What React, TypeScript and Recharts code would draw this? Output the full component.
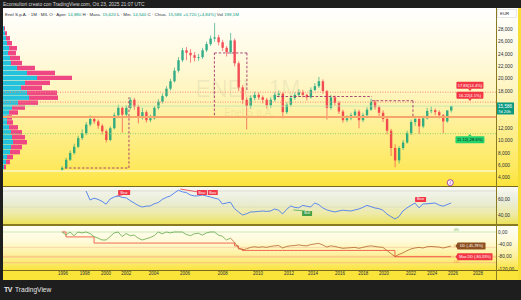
import React from 'react';
import { ComposedChart, BarChart, Bar, Line, XAxis, YAxis, ReferenceLine, ReferenceDot } from 'recharts';

// ---------- data ----------
const FIRST_OPEN = 5.3;
const closes = [
  5.6, 6.9, 8.0, 9.0, 10.4, 11.2, 12.6, 13.5, 13.1, 12.4,
  11.5, 10.1, 12.0, 14.1, 15.3, 14.2, 15.3, 16.6, 15.5, 13.8,
  14.6, 13.3, 13.6, 15.3, 16.3, 17.2, 18.4, 19.6, 21.3, 23.0,
  24.6, 24.2, 23.8, 23.4, 23.5, 24.6, 25.6, 26.5, 26.7, 25.9,
  25.0, 24.3, 26.2, 22.5, 18.6, 16.6, 15.6, 16.9, 17.4, 17.0,
  16.6, 15.7, 16.6, 17.4, 17.6, 14.6, 15.8, 16.9, 17.4, 17.8,
  17.4, 17.0, 18.2, 18.8, 19.6, 18.0, 15.3, 17.0, 16.1, 14.7,
  13.3, 13.6, 14.1, 14.7, 13.3, 14.1, 15.0, 16.3, 15.4, 14.5,
  13.5, 11.6, 8.8, 6.8, 8.8, 9.7, 11.2, 13.0, 13.5, 12.3,
  13.6, 14.8, 14.9, 14.6, 14.1, 13.1, 14.88, 15.586,
];
const highs = [
  5.9, 7.2, 8.4, 9.5, 10.8, 11.8, 13.0, 14.1, 13.9, 13.4,
  12.7, 11.8, 12.3, 14.5, 15.8, 15.5, 15.7, 17.0, 16.9, 15.8,
  15.3, 14.9, 14.2, 15.6, 16.7, 17.6, 18.8, 20.0, 21.8, 23.5,
  25.0, 25.1, 24.8, 24.3, 24.0, 25.0, 26.0, 27.0, 29.0, 27.1,
  26.3, 25.3, 27.4, 26.5, 22.8, 19.0, 17.0, 17.3, 17.9, 17.8,
  17.3, 16.9, 17.0, 17.8, 18.1, 17.8, 16.2, 17.3, 17.8, 18.3,
  18.2, 17.6, 18.6, 19.3, 20.3, 19.9, 18.2, 17.4, 17.3, 16.4,
  15.0, 14.1, 14.5, 15.1, 15.0, 14.5, 15.4, 16.8, 16.6, 15.7,
  14.9, 13.8, 11.9, 9.4, 9.1, 10.1, 11.6, 13.4, 14.0, 13.8,
  14.0, 15.3, 15.5, 15.2, 14.9, 14.3, 14.9, 15.62,
];
const lows = [
  5.1, 5.4, 6.7, 7.7, 8.8, 10.1, 10.9, 12.3, 12.7, 11.9,
  11.0, 9.7, 9.9, 11.8, 13.9, 11.3, 13.9, 15.0, 15.0, 12.8,
  13.4, 12.9, 13.0, 13.4, 15.0, 16.0, 17.0, 18.1, 19.4, 21.0,
  22.7, 23.0, 22.6, 22.8, 22.9, 23.2, 24.3, 25.3, 26.0, 25.4,
  24.5, 23.6, 24.0, 22.0, 18.0, 15.9, 11.8, 15.2, 16.5, 16.6,
  16.0, 15.2, 15.3, 16.3, 17.0, 13.6, 14.3, 15.5, 16.6, 17.1,
  17.0, 16.5, 16.8, 18.0, 18.5, 17.6, 13.4, 15.0, 15.7, 14.3,
  12.9, 13.0, 13.3, 13.8, 12.0, 13.0, 13.8, 14.8, 15.0, 14.0,
  13.0, 11.0, 7.5, 5.7, 6.3, 8.5, 9.5, 10.9, 12.4, 11.1,
  12.0, 13.4, 14.4, 14.1, 13.6, 11.2, 12.9, 14.54,
];
const rsi: (number | null)[] = [
  null, null, null, null, null, null, 70, 58.8, 61, 59.5,
  57, 53.5, 60, 62.5, 63.8, 62, 61.5, 58, 55, 52,
  50, 51, 51.3, 54, 55.5, 59.5, 62, 63.8, 67.5, 71,
  69, 68, 65, 63.8, 64, 65, 63.8, 62.5, 61, 60,
  53.8, 55, 56, 48, 43.8, 40, 41.5, 43.8, 44, 44.5,
  45, 44.5, 45, 47.5, 46, 41.3, 47, 51.3, 49.5, 49,
  52, 51, 50, 55, 53, 49, 46.5, 45, 43.8, 45,
  46, 45.5, 45, 46.3, 47.5, 49.5, 52, 50.5, 48.8, 48,
  46, 41.3, 38, 35, 38, 45, 48.8, 52, 55, 49,
  53.8, 54, 54.5, 55, 52.5, 51, 53, 55,
];
const drawdown = [
  0, -10, 0, -12, 0, -3, 0, -5, -15, -20,
  -26, -26, -15, -3, 0, -15, -5, -12, -10, -20,
  -26, -22, -18, -12, 0, -6, 0, -3, 0, 0,
  0, -8, -12, -6, -4, -10, -3, 0, 0, -10,
  -14, -26, -20, -33, -52, -58, -55, -50, -48, -50,
  -48, -50, -47, -45, -44, -52, -47, -45, -44, -42,
  -44, -45, -41, -39, -37, -42, -49, -45, -47, -50,
  -53, -52, -51, -50, -53, -50, -47, -45, -47, -49,
  -50, -60, -70, -80, -73, -68, -61, -55, -52, -50,
  -52, -48, -47, -48, -49, -52, -49, -45.78,
];
const maxDrawdown = [
  0, -16, -16, -16, -16, -16, -16, -16, -36, -36,
  -36, -36, -36, -36, -36, -36, -36, -36, -36, -36,
  -36, -36, -36, -36, -36, -36, -36, -36, -36, -36,
  -36, -36, -36, -36, -36, -36, -36, -36, -36, -36,
  -36, -36, -36, -45, -55, -60, -60, -60, -60, -60,
  -60, -60, -60, -60, -60, -60, -60, -60, -60, -60,
  -60, -60, -60, -60, -60, -60, -60, -60, -60, -60,
  -60, -60, -60, -60, -60, -60, -60, -60, -60, -60,
  -60, -60, -60, -80.33, -80.33, -80.33, -80.33, -80.33, -80.33, -80.33,
  -80.33, -80.33, -80.33, -80.33, -80.33, -80.33, -80.33, -80.33,
];
const DD_SPLIT = 42;

const profilePrices = [6.0, 6.8, 7.6, 8.4, 9.2, 10.0, 10.8, 11.6, 12.4, 13.2, 14.0, 14.8, 15.6, 16.4, 17.2, 18.0, 18.8, 19.6, 20.4, 21.2, 22.0, 22.8, 23.6, 24.4, 25.2, 26.0, 26.8, 27.6, 28.4];
const profileUp = [1, 2, 3, 4, 6, 5, 7, 8, 14, 24, 34, 22, 18, 24, 26, 15, 9, 6, 4, 4, 6, 8, 9, 10, 8, 7, 4, 3, 1];
const profileDown = [1, 2, 4, 5, 8, 8, 10, 11, 18, 28, 35, 25, 21, 30, 29, 20, 13, 9, 5, 6, 9, 11, 13, 14, 11, 10, 6, 4, 2];

const priceTicks = [4, 6, 8, 10, 12, 18, 20, 22, 24, 26, 28];
const rsiTicks = [40, 60];
const ddTicks = [0, -40, -80, -120];
const timeTickPos = [0.25, 5.7, 11.0, 16.0, 22.9, 30.7, 40.1, 48.9, 56.6, 62.6, 69.3, 75.1, 80.3, 87.0, 92.3, 97.5, 103.7];
const timeTickLabels = ['1996', '1998', '2000', '2002', '2004', '2006', '2008', '2010', '2012', '2014', '2016', '2018', '2020', '2022', '2024', '2026', '2028'];

const POC = 13.82;
const TARGET_1 = 17.83;
const TARGET_2 = 16.22;
const LAST = 15.586;
const STOP = 11.12;
const BASE_LINE = 5.08;

// annotation segments (index, price)
const dashedSegments = [
  [[0.7, 5.57], [16.7, 5.57]],
  [[16.7, 5.57], [16.7, 17.0]],
  [[38.0, 14.1], [38.0, 24.17]],
  [[38.0, 24.17], [46.1, 24.17]],
  [[46.1, 24.17], [46.1, 18.2]],
  [[53.6, 17.13], [77.3, 17.13]],
  [[77.3, 16.45], [87.5, 16.45]],
  [[87.5, 16.45], [87.5, 13.85]],
];
const rsiDivergences = [
  { from: [13.6, 63.6], to: [15.4, 65.8], color: '#f23645' },
  { from: [29.5, 72.5], to: [34.6, 68.2], color: '#f23645' },
  { from: [57.7, 46.3], to: [60.7, 45.0], color: '#4caf50' },
];

// ---------- layout constants ----------
const X_DOMAIN: [number, number] = [-14.7, 108.2];
const PRICE_DOMAIN: [number, number] = [2.66, 31.44];
const RSI_DOMAIN: [number, number] = [28.75, 75];
const DD_DOMAIN: [number, number] = [-123.6, 19.5];
const FONT = "'Liberation Sans', Arial, sans-serif";
const UP = '#17a37c';
const DOWN = '#f23645';

const candles = closes.map((c, i) => {
  const open = i === 0 ? FIRST_OPEN : closes[i - 1];
  return { t: i, open, close: c, high: highs[i], low: lows[i], range: [lows[i], highs[i]] };
});
const osc = closes.map((_, i) => ({
  t: i,
  rsi: rsi[i],
  ddG: i <= DD_SPLIT ? drawdown[i] : null,
  ddB: i >= DD_SPLIT ? drawdown[i] : null,
  maxDD: maxDrawdown[i],
}));
const profile = profilePrices.map((p, i) => ({ p, up: profileUp[i], down: profileDown[i] }));

const comma = (v: number, d: number) => v.toFixed(d).replace('.', ',');

function Candle(props: any) {
  const { x, y, width, height, payload } = props;
  if (x == null || y == null) return null;
  const top = Math.min(y, y + height);
  const h = Math.abs(height);
  const { open, close, high, low } = payload;
  const span = high - low || 1;
  const py = (v: number) => top + ((high - v) / span) * h;
  const up = close >= open;
  const color = up ? UP : DOWN;
  const b1 = py(Math.max(open, close));
  const b2 = py(Math.min(open, close));
  const cx = x + width / 2;
  return (
    <g opacity={0.88}>
      <line x1={cx} x2={cx} y1={top} y2={top + h} stroke={color} strokeWidth={0.7} />
      <rect x={x} y={b1} width={width} height={Math.max(b2 - b1, 0.8)} fill={color} />
    </g>
  );
}

const tagAbove = (text: string, fill: string, w: number) => (p: any) => (
  <g>
    <rect x={p.cx - w / 2} y={p.cy - 10.5} width={w} height={7} rx={0.8} fill={fill} />
    <polygon points={`${p.cx - 2},${p.cy - 3.6} ${p.cx + 2},${p.cy - 3.6} ${p.cx},${p.cy - 1.2}`} fill={fill} />
    <text x={p.cx} y={p.cy - 6.8} fontSize={4.1} fill="#fff" textAnchor="middle" dominantBaseline="central" fontFamily={FONT}>{text}</text>
  </g>
);
const tagBelow = (text: string, fill: string, w: number) => (p: any) => (
  <g>
    <polygon points={`${p.cx - 2},${p.cy + 2.6} ${p.cx + 2},${p.cy + 2.6} ${p.cx},${p.cy + 0.4}`} fill={fill} />
    <rect x={p.cx - w / 2} y={p.cy + 2.5} width={w} height={7} rx={0.8} fill={fill} />
    <text x={p.cx} y={p.cy + 6.1} fontSize={4.1} fill="#111" textAnchor="middle" dominantBaseline="central" fontFamily={FONT}>{text}</text>
  </g>
);
const tagCenter = (text: string, fill: string, w: number) => (p: any) => (
  <g>
    <rect x={p.cx - w / 2} y={p.cy - 2.6} width={w} height={5.2} rx={0.6} fill={fill} />
    <text x={p.cx} y={p.cy} fontSize={3.4} fill="#fff" textAnchor="middle" dominantBaseline="central" fontFamily={FONT}>{text}</text>
  </g>
);
const tagRight = (text: string, fill: string, w: number) => (p: any) => (
  <g>
    <polygon points={`${p.cx - 2},${p.cy} ${p.cx + 0.5},${p.cy - 3.5} ${p.cx + 0.5},${p.cy + 3.5}`} fill={fill} />
    <rect x={p.cx} y={p.cy - 3.5} width={w} height={7} rx={0.6} fill={fill} />
    <text x={p.cx + w / 2} y={p.cy + 0.2} fontSize={3.8} fill="#fff" textAnchor="middle" dominantBaseline="central" fontFamily={FONT}>{text}</text>
  </g>
);
const smallText = (text: string, fill: string) => (p: any) => (
  <text x={p.cx} y={p.cy} fontSize={3.4} fill={fill} textAnchor="start" dominantBaseline="central" fontFamily={FONT}>{text}</text>
);
const snapIcon = (p: any) => (
  <g>
    <circle cx={p.cx} cy={p.cy} r={3} fill="#fff" stroke="#9c27b0" strokeWidth={0.9} />
    <path d={`M${p.cx - 0.6},${p.cy - 1.8} L${p.cx + 1.2},${p.cy - 0.3} L${p.cx - 0.2},${p.cy + 0.2} L${p.cx + 0.6},${p.cy + 1.8} L${p.cx - 1.2},${p.cy + 0.3} L${p.cx + 0.2},${p.cy - 0.2} Z`} fill="#9c27b0" />
  </g>
);

const PriceBadge = (props: any) => {
  const vb = props.viewBox || {};
  const x = (vb.x || 0) + (vb.width || 0);
  const y = vb.y || 0;
  return (
    <g>
      <rect x={x} y={y - 3.6} width={18} height={12} fill="#089981" />
      <text x={x + 2} y={y + 0.2} fontSize={4.6} fill="#fff" dominantBaseline="central" fontFamily={FONT}>{comma(LAST, 3)}</text>
      <text x={x + 2} y={y + 5.3} fontSize={4.2} fill="#fff" dominantBaseline="central" fontFamily={FONT}>7d 20h</text>
    </g>
  );
};

const axisTick = { fontSize: 4.8, fill: '#2a2e39', fontFamily: FONT };
const M0 = { top: 0, right: 0, bottom: 0, left: 0 };

export default function App() {
  const abs = (left: number, top: number, width: number, height: number, extra: any = {}) => ({
    position: 'absolute' as const, left, top, width, height, ...extra,
  });
  return (
    <div style={{ position: 'absolute', left: 0, top: 0, width: 521, height: 300, background: '#1e1e1e', overflow: 'hidden', fontFamily: FONT }}>
      {/* panel backgrounds */}
      <div style={abs(3, 8, 518, 178, { background: 'linear-gradient(to bottom, #ffffff 0%, #fffbe6 22%, #fff5bd 48%, #feee88 72%, #fde858 92%, #fce43c 100%)' })} />
      <div style={abs(3, 187, 518, 37, { background: 'linear-gradient(to bottom, #fbfbf4 0%, #f1f2e6 18%, #e9edd6 40%, #eeeaa8 72%, #ece25a 100%)' })} />
      <div style={abs(3, 226, 518, 44, { background: 'linear-gradient(to bottom, #fffff6 0%, #fffad8 35%, #fdf096 70%, #fbe43e 100%)' })} />
      <div style={abs(3, 271, 518, 9, { background: '#fae43a' })} />

      {/* watermark */}
      <svg style={abs(0, 0, 521, 300, { pointerEvents: 'none' })}>
        <text x={248} y={97} fontSize={23} fill="rgba(90,90,90,0.09)" textAnchor="middle" fontFamily={FONT}>ENEL, 1M</text>
        <text x={249} y={116} fontSize={10} fill="rgba(90,90,90,0.1)" textAnchor="middle" fontFamily={FONT}>Enel S.p.A.</text>
      </svg>

      {/* volume profile */}
      <div style={abs(3, 8, 100, 178)}>
        <BarChart layout="vertical" width={100} height={178} data={profile} margin={M0} barCategoryGap={0}>
          <XAxis type="number" domain={[0, 100]} hide allowDataOverflow />
          <YAxis type="number" dataKey="p" domain={PRICE_DOMAIN} hide allowDataOverflow />
          <Bar dataKey="up" stackId="v" fill="#24c2dc" barSize={5} isAnimationActive={false} />
          <Bar dataKey="down" stackId="v" fill="#ee4784" barSize={5} isAnimationActive={false} />
        </BarChart>
      </div>

      {/* main price chart */}
      <div style={abs(3, 8, 518, 178)}>
        <ComposedChart width={518} height={178} data={candles} margin={M0}>
          <XAxis type="number" dataKey="t" domain={X_DOMAIN} hide allowDataOverflow />
          <YAxis orientation="right" width={25} domain={PRICE_DOMAIN} ticks={priceTicks} interval={0}
            tickFormatter={(v: number) => comma(v, 3)} axisLine={false} tickLine={false} tickSize={0} tickMargin={2}
            tick={axisTick} allowDataOverflow />
          <ReferenceLine y={BASE_LINE} stroke="#ffffff" strokeWidth={1} />
          <ReferenceLine y={STOP} stroke="#8fd16a" strokeWidth={1} strokeDasharray="1 1.5" />
          <ReferenceLine y={TARGET_1} stroke="#f58a7c" strokeWidth={1} strokeDasharray="1 1.5" />
          <ReferenceLine y={TARGET_2} stroke="#f58a7c" strokeWidth={1} strokeDasharray="1 1.5" />
          <ReferenceLine y={LAST} stroke="#b9e4b2" strokeWidth={0.8} label={(p: any) => <PriceBadge {...p} />} />
          <ReferenceLine y={POC} stroke="#f6a56c" strokeWidth={2} />
          {dashedSegments.map((s, k) => (
            <ReferenceLine key={k} segment={[{ x: s[0][0], y: s[0][1] }, { x: s[1][0], y: s[1][1] }]}
              stroke="#a3356c" strokeWidth={0.9} strokeDasharray="2.5 1.8" ifOverflow="visible" />
          ))}
          <Bar dataKey="range" barSize={2.4} shape={Candle} isAnimationActive={false} />
          <ReferenceDot x={101.7} y={TARGET_1} ifOverflow="visible" shape={tagAbove('17.83(14.4%)', '#f23645', 27)} />
          <ReferenceDot x={101.7} y={TARGET_2} ifOverflow="visible" shape={tagAbove('16.22(4.1%)', '#f23645', 27)} />
          <ReferenceDot x={101.7} y={STOP} ifOverflow="visible" shape={tagBelow('11.12(-28.6%)', '#22d36b', 29)} />
          <ReferenceDot x={96.8} y={3.2} ifOverflow="visible" shape={snapIcon} />
        </ComposedChart>
      </div>

      {/* RSI */}
      <div style={abs(3, 187, 518, 37)}>
        <ComposedChart width={518} height={37} data={osc} margin={M0}>
          <XAxis type="number" dataKey="t" domain={X_DOMAIN} hide allowDataOverflow />
          <YAxis orientation="right" width={25} domain={RSI_DOMAIN} ticks={rsiTicks} interval={0}
            tickFormatter={(v: number) => comma(v, 2)} axisLine={false} tickLine={false} tickSize={0} tickMargin={2}
            tick={axisTick} allowDataOverflow />
          <ReferenceLine y={70} stroke="#c9c9c0" strokeWidth={0.6} />
          <ReferenceLine y={50} stroke="#d6d6c0" strokeWidth={0.6} />
          {rsiDivergences.map((d, k) => (
            <ReferenceLine key={k} segment={[{ x: d.from[0], y: d.from[1] }, { x: d.to[0], y: d.to[1] }]} stroke={d.color} strokeWidth={0.8} />
          ))}
          <Line dataKey="rsi" stroke="#4a7cf0" strokeWidth={0.9} dot={false} isAnimationActive={false} />
          <ReferenceDot x={15.5} y={68.1} ifOverflow="visible" shape={tagCenter('Bear', '#f23645', 12)} />
          <ReferenceDot x={34.9} y={68.1} ifOverflow="visible" shape={tagCenter('Bear', '#f23645', 10)} />
          <ReferenceDot x={37.6} y={68.1} ifOverflow="visible" shape={tagCenter('Bear', '#f23645', 10)} />
          <ReferenceDot x={61.1} y={41.9} ifOverflow="visible" shape={tagCenter('Bull', '#43a047', 10)} />
          <ReferenceDot x={89.4} y={59.4} ifOverflow="visible" shape={tagCenter('Bear', '#f23645', 11)} />
        </ComposedChart>
      </div>

      {/* Drawdown */}
      <div style={abs(3, 226, 518, 54)}>
        <ComposedChart width={518} height={54} data={osc} margin={M0}>
          <XAxis type="number" dataKey="t" domain={X_DOMAIN} ticks={timeTickPos} interval={0} height={10}
            tickFormatter={(v: number) => timeTickLabels[timeTickPos.indexOf(v)] ?? ''}
            axisLine={false} tickLine={false} tickSize={0} tickMargin={2} tick={{ ...axisTick, fontSize: 4.5 }} allowDataOverflow />
          <YAxis orientation="right" width={25} domain={DD_DOMAIN} ticks={ddTicks} interval={0}
            tickFormatter={(v: number) => comma(v, 2)} axisLine={false} tickLine={false} tickSize={0} tickMargin={2}
            tick={axisTick} allowDataOverflow />
          <ReferenceLine y={0} stroke="#bfe3ac" strokeWidth={0.8} />
          <ReferenceLine y={-50} stroke="#f8cfa2" strokeWidth={0.8} />
          <ReferenceLine y={-100} stroke="#f8c27c" strokeWidth={1} />
          <ReferenceLine y={-80.33} stroke="#f8b07a" strokeWidth={2} strokeOpacity={0.55} />
          <Line dataKey="maxDD" type="stepAfter" stroke="#f0573f" strokeWidth={0.9} dot={false} isAnimationActive={false} />
          <Line dataKey="ddG" stroke="#62a84a" strokeWidth={0.8} dot={false} isAnimationActive={false} />
          <Line dataKey="ddB" stroke="#b4652c" strokeWidth={0.8} dot={false} isAnimationActive={false} />
          <ReferenceDot x={97.7} y={8} ifOverflow="visible" shape={smallText('0%', '#5fae4a')} />
          <ReferenceDot x={97.4} y={-46} ifOverflow="visible" shape={smallText('-50', '#f29a4a')} />
          <ReferenceDot x={97.4} y={-98} ifOverflow="visible" shape={smallText('-100', '#f29a4a')} />
          <ReferenceDot x={98.6} y={-45.78} ifOverflow="visible" shape={tagRight('DD (-45,78%)', '#8d4e20', 28)} />
          <ReferenceDot x={98.6} y={-80.33} ifOverflow="visible" shape={tagRight('Max DD (-80,33%)', '#f23645', 35)} />
        </ComposedChart>
      </div>

      {/* separators */}
      <div style={abs(3, 186, 518, 1, { background: '#77691e' })} />
      <div style={abs(3, 224, 518, 2, { background: '#8a7b22' })} />
      <div style={abs(3, 270, 518, 1, { background: '#77691e' })} />
      <div style={abs(496, 8, 1, 272, { background: '#8a7b22' })} />
      <div style={abs(518, 8, 3, 272, { background: '#f6df35' })} />

      {/* texts */}
      <svg style={abs(0, 0, 521, 300, { pointerEvents: 'none' })}>
        <text x={3} y={5.6} fontSize={4.9} fill="#d6d6d6" fontFamily={FONT}>Econsultori creato con TradingView.com, Ott 23, 2025 21:07 UTC</text>
        <text x={5} y={15.6} fontSize={4.4} fill="#2a2e39" fontFamily={FONT}>
          <tspan>Enel S.p.A. · 1M · MIL   O · Aper. </tspan>
          <tspan fill="#089981">14,880</tspan>
          <tspan>  H · Mass. </tspan>
          <tspan fill="#089981">15,620</tspan>
          <tspan>  L · Min. </tspan>
          <tspan fill="#089981">14,540</tspan>
          <tspan>  C · Chius. </tspan>
          <tspan fill="#089981">15,586  +0,720 (+4,84%)</tspan>
          <tspan>  Vol </tspan>
          <tspan fill="#089981">198,1M</tspan>
        </text>
        <rect x={497.5} y={9.5} width={19} height={8} fill="#ffffff" stroke="#d8d8d8" strokeWidth={0.6} />
        <text x={500} y={13.7} fontSize={4.4} fill="#2a2e39" dominantBaseline="central" fontFamily={FONT}>EUR</text>
        <text x={4} y={292} fontSize={7} fill="#e8e8e8" fontWeight="bold" fontFamily={FONT} letterSpacing={-0.6}>TV</text>
        <text x={15} y={292} fontSize={6.6} fill="#e8e8e8" fontFamily={FONT}>TradingView</text>
      </svg>
    </div>
  );
}
